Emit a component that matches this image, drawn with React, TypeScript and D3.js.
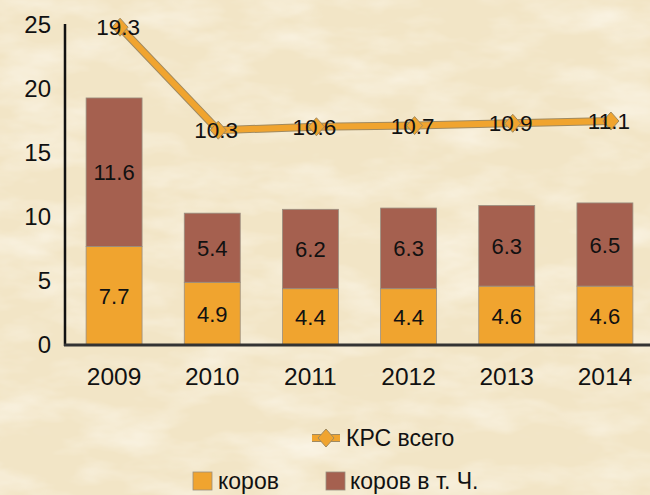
import * as d3 from "d3";

const years = ["2009", "2010", "2011", "2012", "2013", "2014"];
const cows = [7.7, 4.9, 4.4, 4.4, 4.6, 4.6];
const cowsIncl = [11.6, 5.4, 6.2, 6.3, 6.3, 6.5];
const totalKrs = [19.3, 10.3, 10.6, 10.7, 10.9, 11.1];
const yTicks = [0, 5, 10, 15, 20, 25];

const W = 650;
const H = 495;
const ORANGE = "#F0A42F";
const BROWN = "#A5604F";
const FONT = "'Liberation Sans', Arial, sans-serif";

export default function App() {
  const x = d3.scaleBand(years, [65, 654]).paddingInner(0.43).paddingOuter(0.215);
  const y = d3.scaleLinear([0, 25], [345, 25]);
  // line sits on its own (hidden) secondary axis
  const yLine = d3.scaleLinear([0, 25], [248, -38]);
  const lx = (i: number) => (x(years[i]) ?? 0) + x.bandwidth() / 2 + 6;
  const line = d3.line<number>((d, i) => lx(i), (d) => yLine(d));
  const diamond = (cx: number, cy: number) =>
    `M${cx},${cy - 9}L${cx + 8},${cy}L${cx},${cy + 9}L${cx - 8},${cy}Z`;

  return (
    <div style={{ position: "fixed", left: 0, top: 0 }}>
      <svg width={W} height={H} style={{ display: "block" }} fontFamily={FONT}>
        <defs>
          <filter id="parch" x="0" y="0" width="100%" height="100%">
            <feTurbulence type="fractalNoise" baseFrequency="0.012 0.03" numOctaves="4" seed="7" />
            <feColorMatrix
              type="matrix"
              values="0 0 0 0 1  0 0 0 0 0.98  0 0 0 0 0.93  1.2 0 0 0 -0.5"
            />
          </filter>
          <filter id="parch2" x="0" y="0" width="100%" height="100%">
            <feTurbulence type="fractalNoise" baseFrequency="0.02 0.05" numOctaves="3" seed="3" />
            <feColorMatrix
              type="matrix"
              values="0 0 0 0 0.88  0 0 0 0 0.79  0 0 0 0 0.6  0.7 0 0 0 -0.42"
            />
          </filter>
        </defs>
        <rect width={W} height={H} fill="#F2E5C6" />
        <rect width={W} height={H} filter="url(#parch)" />
        <rect width={W} height={H} filter="url(#parch2)" />

        {/* y axis */}
        <line x1={65} x2={65} y1={24} y2={346} stroke="#111" strokeWidth={2.5} />
        {yTicks.map((t) => (
          <text key={t} x={51} y={y(t) + 8} fontSize={24} textAnchor="end" fill="#111">
            {t}
          </text>
        ))}

        {/* bars */}
        {years.map((yr, i) => {
          const bx = x(yr) ?? 0;
          const bw = x.bandwidth();
          const cx = bx + bw / 2;
          const top = cows[i] + cowsIncl[i];
          return (
            <g key={yr}>
              <rect x={bx} y={y(cows[i])} width={bw} height={y(0) - y(cows[i])} fill={ORANGE} stroke="#9a8f80" strokeWidth={0.8} />
              <rect x={bx} y={y(top)} width={bw} height={y(cows[i]) - y(top)} fill={BROWN} stroke="#9a8f80" strokeWidth={0.8} />
              <text x={cx} y={(y(0) + y(cows[i])) / 2 + 8} fontSize={22} textAnchor="middle" fill="#111">
                {cows[i]}
              </text>
              <text x={cx} y={(y(cows[i]) + y(top)) / 2 + 8} fontSize={22} textAnchor="middle" fill="#111">
                {cowsIncl[i]}
              </text>
              <text x={cx} y={385} fontSize={24.5} textAnchor="middle" fill="#111">
                {yr}
              </text>
            </g>
          );
        })}

        {/* x axis */}
        <line x1={64} x2={650} y1={345} y2={345} stroke="#333" strokeWidth={3} />

        {/* line */}
        <path d={line(totalKrs) ?? ""} fill="none" stroke="#a08a60" strokeWidth={8} strokeLinejoin="round" />
        <path d={line(totalKrs) ?? ""} fill="none" stroke={ORANGE} strokeWidth={6} strokeLinejoin="round" />
        {totalKrs.map((v, i) => (
          <path key={i} d={diamond(lx(i), yLine(v))} fill={ORANGE} stroke="#a08a60" strokeWidth={1} />
        ))}
        {totalKrs.map((v, i) => (
          <text key={i} x={lx(i) - 2} y={yLine(v) + 8} fontSize={22.5} textAnchor="middle" fill="#111">
            {v}
          </text>
        ))}

        {/* legend */}
        <g>
          <line x1={312} x2={340} y1={438} y2={438} stroke="#a08a60" strokeWidth={8} />
          <line x1={312} x2={340} y1={438} y2={438} stroke={ORANGE} strokeWidth={6} />
          <path d={diamond(326, 438)} fill={ORANGE} stroke="#a08a60" strokeWidth={1} />
          <text x={346} y={446} fontSize={23} fill="#111">КРС всего</text>

          <rect x={193} y={472} width={19} height={18} fill={ORANGE} stroke="#9a8f80" strokeWidth={0.8} />
          <text x={218} y={489} fontSize={23} fill="#111">коров</text>
          <rect x={326} y={472} width={19} height={18} fill={BROWN} stroke="#9a8f80" strokeWidth={0.8} />
          <text x={350} y={489} fontSize={23} fill="#111">коров в т. Ч.</text>
        </g>
      </svg>
    </div>
  );
}
